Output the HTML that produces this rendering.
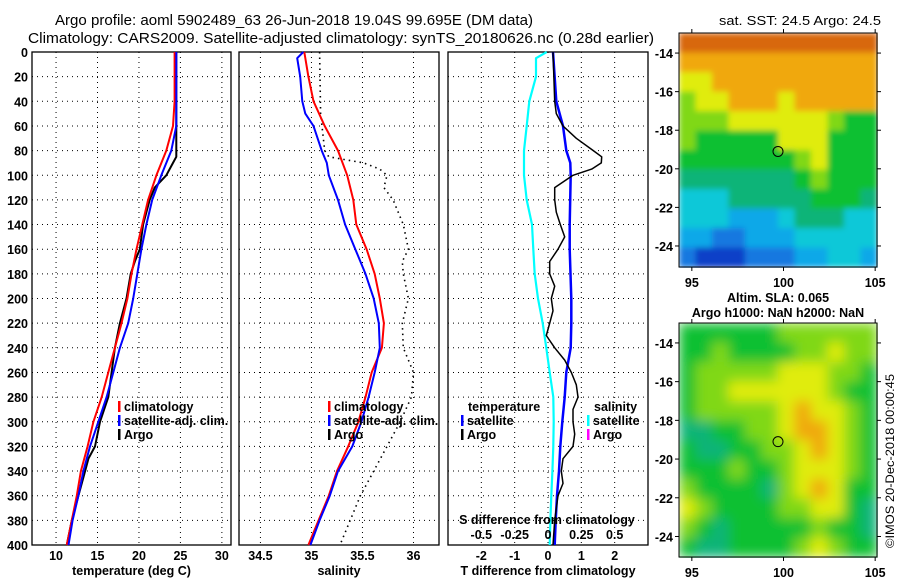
<!DOCTYPE html>
<html><head><meta charset="utf-8"><style>
html,body{margin:0;padding:0;background:#fff;}
svg{display:block;font-family:"Liberation Sans",sans-serif;}
.b{font-weight:bold;font-size:12.5px;}
</style></head><body>
<svg id="c" width="900" height="580" viewBox="0 0 900 580">
<text x="294" y="25" text-anchor="middle" font-size="14.5" textLength="478" lengthAdjust="spacingAndGlyphs">Argo profile: aoml 5902489_63 26-Jun-2018 19.04S 99.695E (DM data)</text>
<text x="341" y="43" text-anchor="middle" font-size="14.5" textLength="626" lengthAdjust="spacingAndGlyphs">Climatology: CARS2009. Satellite-adjusted climatology: synTS_20180626.nc (0.28d earlier)</text>
<text x="800" y="25" text-anchor="middle" font-size="13" textLength="162" lengthAdjust="spacingAndGlyphs">sat. SST: 24.5 Argo: 24.5</text>
<text class="b" x="778" y="302" text-anchor="middle">Altim. SLA: 0.065</text>
<text class="b" x="778" y="317" text-anchor="middle">Argo h1000: NaN h2000: NaN</text>
<text x="0" y="0" transform="translate(894,548) rotate(-90)" style="font-size:12px;font-weight:normal" textLength="174" lengthAdjust="spacingAndGlyphs">©IMOS 20-Dec-2018 00:00:45</text>
</svg>
<script>
// ---- data ----
const depths=[0,20,40,60,80,100,120,140,160,180,200,220,240,260,280,300,320,340,360,380,400];
const tempClim=[24.3,24.3,24.3,24.1,23.3,22.1,21.1,20.4,19.7,19.1,18.6,17.9,17.1,16.3,15.5,14.5,13.8,13.0,12.5,11.9,11.3];
const tempSat=[24.5,24.5,24.5,24.5,23.9,22.7,21.6,20.9,20.3,19.8,19.3,18.7,17.7,16.9,16.1,15.1,14.1,13.3,12.7,12.0,11.5];
const argoDepths=[0,20,40,60,85,90,100,110,120,140,160,170,180,200,220,240,260,280,300,320,330,340,360,380,400];
const tempArgo=[24.5,24.5,24.5,24.5,24.5,24.1,23.3,21.9,21.3,20.5,20.1,19.5,19.0,18.5,17.7,17.1,16.7,16.3,15.3,14.7,13.9,13.5,12.7,11.9,11.3];
const salClimD=[0,20,40,60,80,100,120,140,160,180,200,220,240,260,280,300,320,340,360,380,400];
const salClim=[34.93,34.97,35.02,35.13,35.26,35.35,35.41,35.44,35.54,35.62,35.67,35.71,35.69,35.59,35.53,35.46,35.36,35.25,35.17,35.07,34.97];
const salSatD=[0,5,20,40,50,60,80,90,100,120,140,160,180,200,220,240,260,280,300,320,340,360,380,400];
const salSat=[34.92,34.86,34.89,34.91,34.94,35.02,35.10,35.15,35.17,35.26,35.33,35.43,35.53,35.61,35.66,35.67,35.62,35.56,35.49,35.40,35.26,35.18,35.08,34.99];
const salArgoD=[0,50,80,85,90,95,100,110,120,140,160,170,180,200,220,240,260,280,300,320,340,360,380,400];
const salArgo=[35.08,35.09,35.13,35.17,35.51,35.67,35.74,35.71,35.80,35.90,35.95,35.89,35.90,35.95,35.89,35.90,36.00,35.98,35.87,35.74,35.61,35.48,35.38,35.28];
const tdSatD=[0,40,60,80,90,100,140,160,200,220,240,260,280,300,320,340,360,380,400];
const tdSat=[0.15,0.25,0.45,0.55,0.67,0.68,0.65,0.65,0.70,0.70,0.68,0.55,0.50,0.43,0.37,0.33,0.27,0.23,0.20];
const tdArgoD=[0,40,50,60,70,80,85,90,95,100,110,120,130,140,150,160,170,180,190,200,210,220,230,240,250,260,270,280,290,300,310,320,330,340,350,360,380,400];
const tdArgo=[0.15,0.2,0.25,0.45,0.85,1.36,1.61,1.6,1.31,0.75,0.2,0.2,0.25,0.37,0.5,0.3,0.05,0.05,0.2,0.1,0.15,0.05,-0.05,0.2,0.5,0.7,0.85,0.9,0.75,0.75,0.8,0.75,0.45,0.4,0.45,0.3,0.2,0.15];
const sdSatD=[0,5,20,40,60,80,100,120,140,160,180,200,220,240,260,280,300,320,340,360,380,400];
const sdSat=[-0.01,-0.09,-0.09,-0.14,-0.16,-0.18,-0.18,-0.16,-0.12,-0.11,-0.10,-0.075,-0.04,-0.013,0.013,0.04,0.043,0.04,0.033,0.025,0.018,0.013];
const depthTicks=[0,20,40,60,80,100,120,140,160,180,200,220,240,260,280,300,320,340,360,380,400];
const tempTicks=[10,15,20,25,30];
const salTicks=[34.5,35,35.5,36];
const tdTicks=[-2,-1,0,1,2];
const sdTicks=[-0.5,-0.25,0,0.25,0.5];
const sdTickLabels=["-0.5","-0.25","0","0.25","0.5"];
const mapLonTicks=[95,100,105];
const mapLatTicks=[-14,-16,-18,-20,-22,-24];
const sstGrid=[
[10,10,10,10,10,10,10,10,10,10,10,10],
[9,9,9,9,9,9,9,9,9,9,9,9],
[8,8,9,9,9,9,9,9,9,9,9,9],
[7,8,8,9,9,9,8,9,9,9,9,9],
[7,7,7,8,8,8,8,8,8,7,6,6],
[7,6,6,6,6,6,8,8,8,6,6,6],
[6,6,6,6,6,6,6,7,8,6,6,6],
[5,5,5,5,5,5,5,6,7,6,6,6],
[4,4,4,5,5,5,5,5,6,6,6,5],
[4,4,4,3,3,3,4,5,5,5,4,4],
[3,3,2,2,3,3,3,4,4,4,4,4],
[2,1,1,1,2,2,2,3,3,4,4,3]];
const slaGrid=[
[6,6,6,6,6,6,7,7,7,7,7,7],
[6,6,7,6,6,6,6,7,7,8,7,7],
[6,7,7,7,7,7,8,8,8,7,7,6],
[6,7,7,8,8,8,8,8,8,7,6,6],
[6,7,7,7,7,7,8,9,8,8,7,6],
[5,5,6,6,7,7,8,9,9,8,7,6],
[6,5,5,6,6,7,7,8,9,8,7,6],
[6,6,6,7,6,6,7,8,8,8,7,6],
[7,6,6,6,6,5,7,8,9,8,6,6],
[8,7,6,6,6,6,7,7,8,8,6,5],
[7,6,5,6,6,6,6,6,7,6,6,5],
[6,5,5,6,6,6,6,7,8,7,6,6]];
const argoLon=99.7, argoLat=-19.1;
const cmap=["#0a28a0","#1040c8","#1478e0","#10a8e8","#10c8d8","#10b478","#10c030","#80d818","#e0ec10","#f0a810","#d86808"];

// ---- drawing ----
const svg=document.getElementById('c');const NS='http://www.w3.org/2000/svg';
function mk(t,a,p){const e=document.createElementNS(NS,t);for(const k in a)e.setAttribute(k,a[k]);(p||svg).appendChild(e);return e;}
const Y0=52,Y1=545;
const yD=d=>Y0+(d/400)*(Y1-Y0);
function lin(d0,d1,r0,r1){return v=>r0+(v-d0)/(d1-d0)*(r1-r0);}
const xT=lin(7.1,31.1,32,231), xS=lin(34.29,36.25,239,439), xTD=lin(-3,3,448,648), xSD=lin(-0.75,0.75,448,648);
function panel(name,x0,x1,xs,ticks,labels,xlabel,showY){
  const g=mk('g',{});  
  depthTicks.forEach(d=>{ if(d>0&&d<400){const l=mk('line',{x1:x0,x2:x1,y1:yD(d),y2:yD(d),stroke:'#000','stroke-width':1,'stroke-dasharray':'1,4'},g);}
    if(showY){const t=mk('text',{x:28,y:yD(d)+5,'text-anchor':'end',class:'b'},g);t.textContent=d;}});
  ticks.forEach((v,i)=>{const x=xs(v);if(x>x0&&x<x1){const l=mk('line',{x1:x,x2:x,y1:Y0,y2:Y1,stroke:'#000','stroke-width':1,'stroke-dasharray':'1,4'},g);}
    const t=mk('text',{x:x,y:560,'text-anchor':'middle',class:'b'},g);t.textContent=labels[i];});
  const r=mk('rect',{x:x0,y:Y0,width:x1-x0,height:Y1-Y0,fill:'none',stroke:'#000','stroke-width':1.3},g);
  const t=mk('text',{x:(x0+x1)/2,y:575,'text-anchor':'middle',class:'b'},g);t.textContent=xlabel;
  return g;
}
function line(g,ds,vs,xs,col,w,dash,name){const pts=ds.map((d,i)=>xs(vs[i]).toFixed(1)+','+yD(d).toFixed(1)).join(' ');
  const a={points:pts,fill:'none',stroke:col,'stroke-width':w,'stroke-linejoin':'round'};if(dash)a['stroke-dasharray']=dash;
  const p=mk('polyline',a,g);}
function legend(g,x,y,items){items.forEach((it,i)=>{const yy=y+i*14;
  const m=mk('rect',{x:x,y:yy-10,width:2.5,height:11,fill:it[1]},g);
  const t=mk('text',{x:x+6,y:yy,class:'b'},g);t.textContent=it[0];});}

const g1=panel('temperature-panel',32,231,xT,tempTicks,tempTicks.map(String),'temperature (deg C)',true);
line(g1,argoDepths,tempArgo,xT,'#000',2,null,'temp-argo-line');
line(g1,depths,tempClim,xT,'#f00',2,null,'temp-climatology-line');
line(g1,depths,tempSat,xT,'#00f',2,null,'temp-satellite-line');
legend(g1,118,411,[['climatology','#f00'],['satellite-adj. clim.','#00f'],['Argo','#000']]);

const g2=panel('salinity-panel',239,439,xS,salTicks,salTicks.map(String),'salinity',false);
line(g2,salArgoD,salArgo,xS,'#000',1.6,'1.5,4','sal-argo-line');
line(g2,salClimD,salClim,xS,'#f00',2,null,'sal-climatology-line');
line(g2,salSatD,salSat,xS,'#00f',2,null,'sal-satellite-line');
legend(g2,328,411,[['climatology','#f00'],['satellite-adj. clim.','#00f'],['Argo','#000']]);

const g3=panel('difference-panel',448,648,xTD,tdTicks,tdTicks.map(String),'T difference from climatology',false);
line(g3,sdSatD,sdSat,xSD,'#0ff',2.2,null,'sdiff-satellite-line');
line(g3,tdSatD,tdSat,xTD,'#00f',2.5,null,'tdiff-satellite-line');
line(g3,tdArgoD,tdArgo,xTD,'#000',1.5,null,'tdiff-argo-line');
{const t=mk('text',{x:468,y:411,class:'b'},g3);t.textContent='temperature';
 const s=mk('text',{x:594,y:411,class:'b'},g3);s.textContent='salinity';}
legend(g3,461,425,[['satellite','#00f'],['Argo','#000']]);
legend(g3,587,425,[['satellite','#0ff'],['Argo','#f0f']]);
{const t=mk('text',{x:547,y:524,'text-anchor':'middle',class:'b'},g3);t.textContent='S difference from climatology';
 sdTicks.forEach((v,i)=>{const l=mk('text',{x:xSD(v),y:539,'text-anchor':'middle',class:'b'},g3);l.textContent=sdTickLabels[i];});}

function map(name,grid,y0,y1,lat0,lat1,filt){
  const x0=679,x1=877,lon0=94.3,lon1=105.1;
  const xl=lin(lon0,lon1,x0,x1), yl=lin(lat0,lat1,y0,y1);
  const g=mk('g',{});
  const cg=mk('g',{filter:'url(#'+filt+')'},g);
  const nr=grid.length,nc=grid[0].length,cw=(lon1-lon0)/nc,ch=(lat0-lat1)/nr;
  grid.forEach((row,r)=>row.forEach((v,c)=>{const xa=xl(lon0+c*cw),ya=yl(lat0-r*ch);
    const e=mk('rect',{x:xa,y:ya,width:xl(lon0+(c+1)*cw)-xa+0.6,height:yl(lat0-(r+1)*ch)-ya+0.6,fill:cmap[v]},cg);
    }));
  const fr=mk('rect',{x:x0,y:y0,width:x1-x0,height:y1-y0,fill:'none',stroke:'#000','stroke-width':1},g);
  mapLonTicks.forEach(v=>{const x=xl(v);mk('line',{x1:x,x2:x,y1:y0-4,y2:y0,stroke:'#000'},g);mk('line',{x1:x,x2:x,y1:y1,y2:y1+4,stroke:'#000'},g);
    const t=mk('text',{x:x,y:y1+20,'text-anchor':'middle',class:'b'},g);t.textContent=v;});
  mapLatTicks.forEach(v=>{const y=yl(v);mk('line',{x1:x0-4,x2:x0,y1:y,y2:y,stroke:'#000'},g);mk('line',{x1:x1,x2:x1+4,y1:y,y2:y,stroke:'#000'},g);
    const t=mk('text',{x:x0-6,y:y+5,'text-anchor':'end',class:'b'},g);t.textContent=v;});
  const ci=mk('circle',{cx:xl(argoLon),cy:yl(argoLat),r:5,fill:'none',stroke:'#000','stroke-width':1},g);
}
const defs=mk('defs',{});const f=mk('filter',{id:'bl',x:'0',y:'0',width:'1',height:'1'},defs);mk('feGaussianBlur',{stdDeviation:'6',edgeMode:'duplicate'},f);
const f2=mk('filter',{id:'bl2',x:'0',y:'0',width:'1',height:'1'},defs);mk('feGaussianBlur',{stdDeviation:'3',edgeMode:'duplicate'},f2);
map('sst-map',sstGrid,33,267,-12.96,-25.09,'bl2');
map('sla-map',slaGrid,323,557,-12.97,-25.06,'bl');
</script>
</body></html>
